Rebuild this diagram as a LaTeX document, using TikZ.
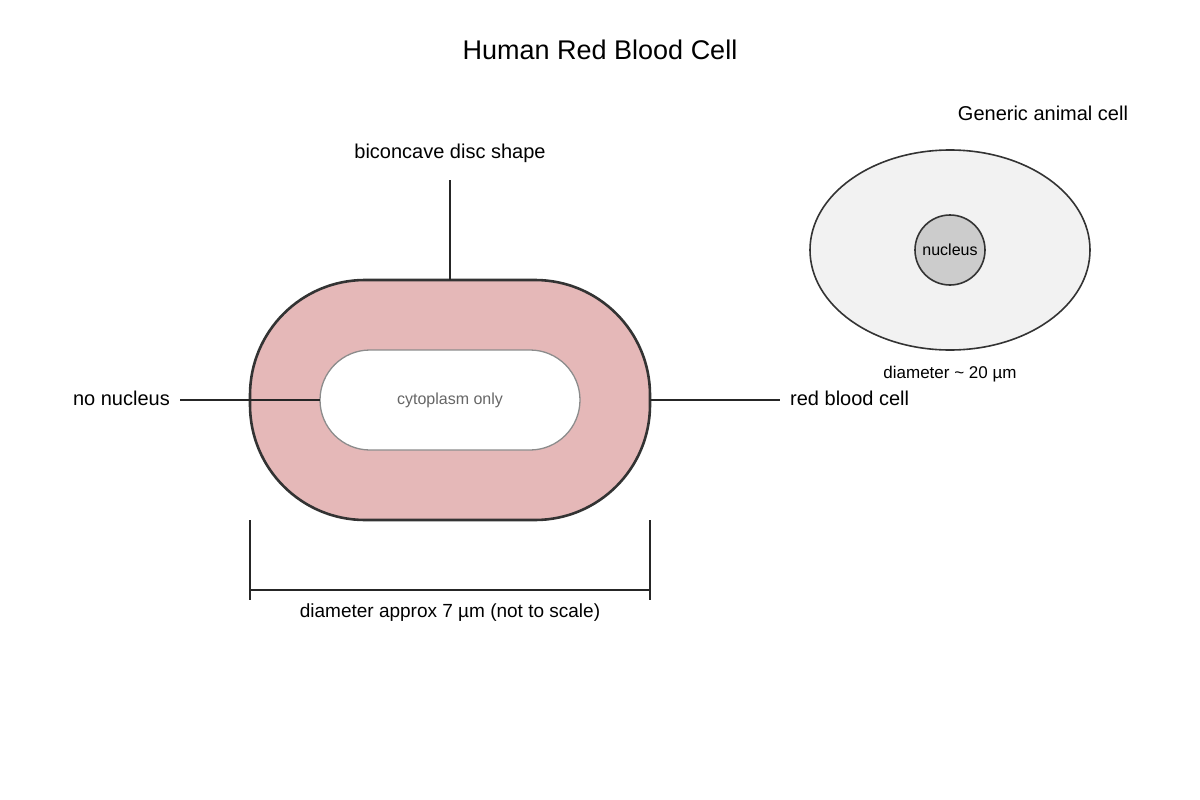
\documentclass[tikz,border=0pt]{standalone}
\usepackage{fontspec}
\setmainfont{Liberation Sans}
\begin{document}
\begin{tikzpicture}[x=1pt,y=-1pt,
  lbl/.style={inner sep=0pt,font=\fontsize{20}{24}\selectfont},
  sml/.style={inner sep=0pt,font=\fontsize{17}{20}\selectfont},
  ln/.style={draw=black!85,line width=1.3pt}]
\useasboundingbox (0,0) rectangle (1200,800);
\node[inner sep=0pt,font=\fontsize{27}{32}\selectfont] (title) at (600,50) {Human Red Blood Cell};
% red cell
\draw[fill={rgb,255:red,229;green,184;blue,184},draw=black!80,line width=2.6pt,rounded corners=115pt] (250,280) rectangle (650,520);
\coordinate (rtop) at (450,280);
\coordinate (rleft) at (250,400);
\coordinate (rright) at (650,400);
\draw[fill=white,draw=black!45,line width=1.3pt,rounded corners=50pt] (320,350) rectangle (580,450);
\node[sml,text=black!60,font=\fontsize{16}{19}\selectfont] (cyto) at (450,400) {cytoplasm only};
\coordinate (cleft) at (320,400);
\node[lbl] (bic) at (450,153) {biconcave disc shape};
\coordinate (bicl) at (450,180);
\draw[ln] (bicl) -- (rtop);
\node[lbl,anchor=east] (nn) at (170,398) {no nucleus};
\coordinate (nnl) at (180,400);
\draw[ln] (nnl) -- (cleft);
\node[lbl,anchor=west] (rbc) at (790,398) {red blood cell};
\coordinate (rbcl) at (780,400);
\draw[ln] (rright) -- (rbcl);
% dimension
\coordinate (d1a) at (250,520); \coordinate (d1b) at (250,600);
\coordinate (d2a) at (650,520); \coordinate (d2b) at (650,600);
\coordinate (da) at (250,590); \coordinate (db) at (650,590);
\draw[ln] (d1a)--(d1b); \draw[ln] (d2a)--(d2b); \draw[ln] (da)--(db);
\node[sml,font=\fontsize{19}{23}\selectfont] (dim) at (450,613) {diameter approx 7 µm (not to scale)};
% generic cell
\node[lbl] (gen) at (1043,113) {Generic animal cell};
\draw[fill=black!5,draw=black!80,line width=1.6pt] (950,250) ellipse [x radius=140,y radius=100];
\node[circle,minimum size=70pt,fill=black!20,draw=black!80,line width=1.6pt,inner sep=0pt,font=\fontsize{16}{19}\selectfont] (nuc) at (950,250) {nucleus};
\node[sml] (gd) at (950,374) {diameter \textasciitilde{} 20 µm};
\end{tikzpicture}
\end{document}
